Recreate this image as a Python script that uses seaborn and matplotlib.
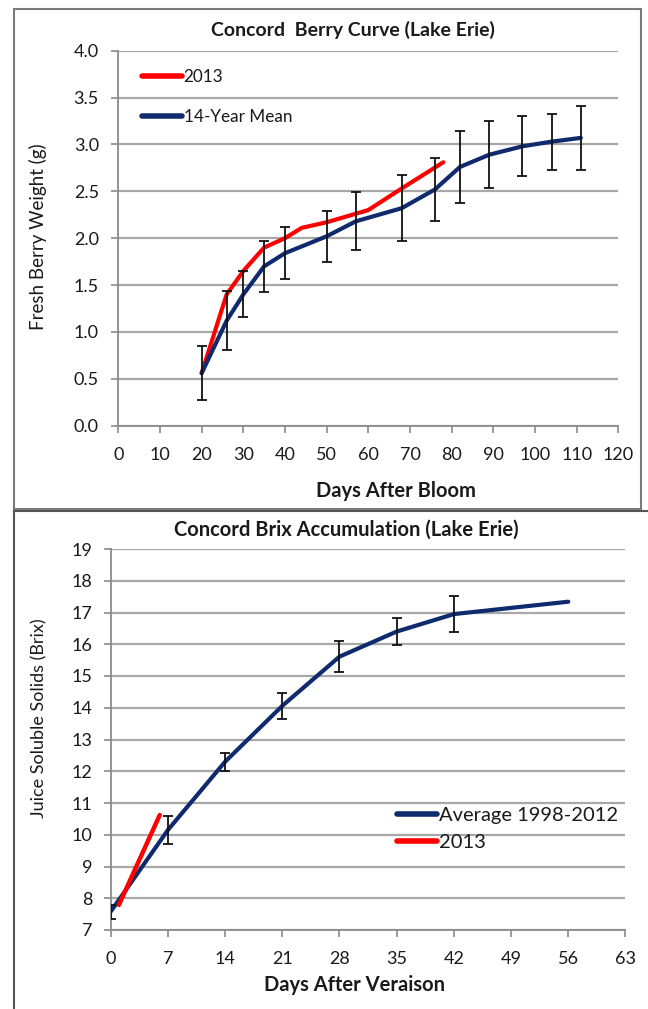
import numpy as np
import pandas as pd
import seaborn as sns
import matplotlib.pyplot as plt
from matplotlib.patches import Rectangle

# ─── data: berry weight (top panel) ─────────────────────────────────────
bloom_days_mean = [20, 26, 30, 35, 40, 50, 57, 68, 76, 82, 89, 97, 104, 111]
weight_mean     = [0.56, 1.12, 1.40, 1.70, 1.84, 2.02, 2.18, 2.32, 2.52, 2.76, 2.89, 2.98, 3.03, 3.07]
weight_err      = [0.29, 0.315, 0.245, 0.275, 0.275, 0.275, 0.31, 0.355, 0.335, 0.38, 0.355, 0.32, 0.30, 0.345]
bloom_days_2013 = [20, 26, 30, 35, 40, 44, 50, 60, 68, 78]
weight_2013     = [0.56, 1.40, 1.65, 1.90, 2.00, 2.11, 2.17, 2.30, 2.53, 2.81]

# ─── data: brix (bottom panel) ──────────────────────────────────────────
ver_days_avg  = [0, 7, 14, 21, 28, 35, 42, 56]
brix_avg      = [7.58, 10.15, 12.30, 14.06, 15.61, 16.40, 16.95, 17.34]
brix_err      = [0.22, 0.44, 0.29, 0.41, 0.49, 0.43, 0.57]   # no bar on the last point
ver_days_2013 = [1, 6]
brix_2013     = [7.79, 10.62]

NAVY = "#0f2b6e"
RED = "#ff0000"
GRID = "#a8a8a8"
SPINE = "#8a8a8a"
TXT = "#1a1a1a"

sns.set_style("white")
plt.rcParams["font.family"] = ["Lato", "DejaVu Sans"]

fig = plt.figure(figsize=(6.48, 10.09), dpi=100)

# panel frames
fig.patches.append(Rectangle((14/648, 1-509/1009), 627/648, 500/1009, transform=fig.transFigure,
                             fill=False, edgecolor="#7a7a7a", lw=1.5))
fig.patches.append(Rectangle((14/648, -0.01), 640/648, 1-511/1009 + 0.01, transform=fig.transFigure,
                             fill=False, edgecolor="#555555", lw=1.5))


def style_axes(ax):
    for s in ["top", "right"]:
        ax.spines[s].set_visible(False)
    for s in ["left", "bottom"]:
        ax.spines[s].set_color(SPINE)
        ax.spines[s].set_linewidth(1.3)
    ax.yaxis.grid(True, color=GRID, lw=1.6)
    ax.xaxis.grid(False)
    ax.set_axisbelow(True)
    ax.tick_params(axis="both", direction="out", length=5, width=1.2, color=SPINE,
                   labelsize=13, labelcolor=TXT, left=True, bottom=True)
    ax.set_xlabel("")
    ax.set_ylabel("")


# ─── top panel ──────────────────────────────────────────────────────────
ax1 = fig.add_axes([118.3/648, 1-425.7/1009, 500/648, 375/1009])
df_m = pd.DataFrame({"day": bloom_days_mean, "w": weight_mean})
df_r = pd.DataFrame({"day": bloom_days_2013, "w": weight_2013})
sns.lineplot(data=df_r, x="day", y="w", ax=ax1, color=RED, lw=3, label="2013", zorder=3)
sns.lineplot(data=df_m, x="day", y="w", ax=ax1, color=NAVY, lw=3, label="14-Year Mean", zorder=3)
ax1.errorbar(bloom_days_mean, weight_mean, yerr=weight_err, fmt="none", ecolor="#111111",
             elinewidth=1.3, capsize=3.5, capthick=1.3, zorder=4)
ax1.set_xlim(0, 120)
ax1.set_ylim(0, 4)
ax1.set_xticks(np.arange(0, 121, 10))
ax1.set_yticks(np.arange(0, 4.01, 0.5))
ax1.set_yticklabels([f"{v:.1f}" for v in np.arange(0, 4.01, 0.5)])
style_axes(ax1)
ax1.tick_params(axis="x", pad=10)
ax1.tick_params(axis="y", pad=9)
leg1 = ax1.legend(loc="upper left", bbox_to_anchor=(0.047, 0.95), frameon=False, fontsize=12.3,
                  handlelength=2.35, handletextpad=0.1, labelspacing=1.35, borderpad=0,
                  borderaxespad=0)
for t in leg1.get_texts():
    t.set_color(TXT)
for h in leg1.get_lines():
    h.set_linewidth(4)

fig.text(353/648, 1-30/1009, "Concord  Berry Curve (Lake Erie)", ha="center", va="center",
         fontsize=14, fontweight="bold", color=TXT)
fig.text(396/648, 1-491/1009, "Days After Bloom", ha="center", va="center",
         fontsize=14.5, fontweight="bold", color=TXT)
fig.text(38/648, 1-237/1009, "Fresh Berry Weight (g)", ha="center", va="center",
         rotation=90, fontsize=13.5, color=TXT)

# ─── bottom panel ───────────────────────────────────────────────────────
ax2 = fig.add_axes([110.7/648, 1-930/1009, 514.8/648, 381/1009])
df_a = pd.DataFrame({"day": ver_days_avg, "b": brix_avg})
df_b = pd.DataFrame({"day": ver_days_2013, "b": brix_2013})
sns.lineplot(data=df_a, x="day", y="b", ax=ax2, color=NAVY, lw=3, label="Average 1998-2012", zorder=3)
sns.lineplot(data=df_b, x="day", y="b", ax=ax2, color=RED, lw=3.2, label="2013", zorder=3)
ax2.errorbar(ver_days_avg[:len(brix_err)], brix_avg[:len(brix_err)], yerr=brix_err, fmt="none",
             ecolor="#111111", elinewidth=1.3, capsize=3.5, capthick=1.3, zorder=4)
ax2.set_xlim(0, 63)
ax2.set_ylim(7, 19)
ax2.set_xticks(np.arange(0, 64, 7))
ax2.set_yticks(np.arange(7, 20, 1))
style_axes(ax2)
ax2.tick_params(axis="x", pad=10)
ax2.tick_params(axis="y", pad=8)
leg2 = ax2.legend(loc="upper left", bbox_to_anchor=(0.556, 0.323), frameon=False, fontsize=14.5,
                  handlelength=2.0, handletextpad=0.1, labelspacing=0.5, borderpad=0,
                  borderaxespad=0)
for t in leg2.get_texts():
    t.set_color(TXT)
for h in leg2.get_lines():
    h.set_linewidth(4)

fig.text(346/648, 1-530/1009, "Concord Brix Accumulation (Lake Erie)", ha="center", va="center",
         fontsize=14.5, fontweight="bold", color=TXT)
fig.text(355/648, 1-985/1009, "Days After Veraison", ha="center", va="center",
         fontsize=14.5, fontweight="bold", color=TXT)
fig.text(39/648, 1-718/1009, "Juice Soluble Solids (Brix)", ha="center", va="center",
         rotation=90, fontsize=13, color=TXT)

fig.savefig("out.png", dpi=100)
